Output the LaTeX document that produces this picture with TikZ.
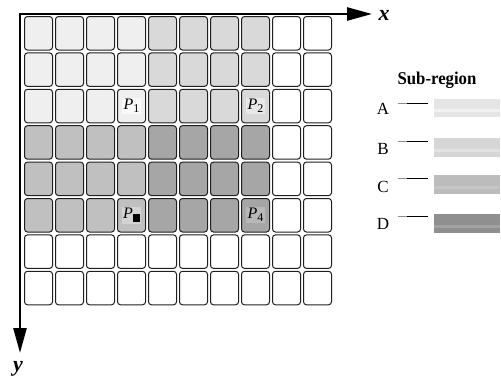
\documentclass[tikz,border=0pt]{standalone}
\usepackage{fontspec}
\setmainfont{Liberation Serif}
\usetikzlibrary{arrows.meta,calc}
\definecolor{regA}{HTML}{EFEFEF}
\definecolor{regB}{HTML}{D9D9D9}
\definecolor{regC}{HTML}{C0C0C0}
\definecolor{regD}{HTML}{A6A6A6}
\definecolor{keyA}{HTML}{E5E5E5}
\definecolor{keyB}{HTML}{D6D6D6}
\definecolor{keyC}{HTML}{BCBCBC}
\definecolor{keyD}{HTML}{8F8F8F}
\begin{document}
\begin{tikzpicture}[x=1pt,y=-1pt,
  cell/.style={draw=black!88, line width=1pt, rounded corners=3pt,
    minimum width=28pt, minimum height=33.5pt, inner sep=0pt},
  axis/.style={line width=2.6pt, line cap=rect, -{Triangle[length=25pt,width=13pt]}},
  plabel/.style={inner sep=1.5pt, font=\fontsize{16}{16}\selectfont},
  axlabel/.style={font=\bfseries\itshape\fontsize{22}{22}\selectfont, inner sep=0pt},
  keyletter/.style={font=\fontsize{17}{17}\selectfont, inner sep=0pt},
  swatch/.style={minimum width=66pt, minimum height=18.5pt, inner sep=0pt},
  keyline/.style={line width=1pt}]
\useasboundingbox (0,0) rectangle (501,388);

% grid of cells, shaded by sub-region
\foreach \r in {0,...,7}{
  \foreach \c in {0,...,9}{
    \def\cellfill{white}
    \ifnum\r<3 \ifnum\c<4 \def\cellfill{regA}\else\ifnum\c<8 \def\cellfill{regB}\fi\fi\fi
    \ifnum\r>2 \ifnum\r<6 \ifnum\c<4 \def\cellfill{regC}\else\ifnum\c<8 \def\cellfill{regD}\fi\fi\fi\fi
    \node[cell, fill=\cellfill] (c-\c-\r) at ({38.5+31*\c},{33.25+36.4*\r}) {};
  }
}

% corner points
\node[plabel, fill=white!60!regA] (p1) at (c-3-2) {\textit{P}\raisebox{-3pt}{\fontsize{12}{12}\selectfont 1}};
\node[plabel, fill=white!40!regB] (p2) at (c-7-2) {\textit{P}\raisebox{-3pt}{\fontsize{12}{12}\selectfont 2}};
\node[plabel, fill=white!30!regC] (p3) at (c-3-5) {\textit{P}\raisebox{-4pt}{\rule{7pt}{8pt}}};
\node[plabel, fill=white!20!regD] (p4) at (c-7-5) {\textit{P}\raisebox{-3pt}{\fontsize{12}{12}\selectfont 4}};

% axes
\coordinate (o) at (20,14);
\coordinate (xe) at (372,14);
\coordinate (ye) at (20,353);
\draw[axis] (o) -- (xe);
\draw[axis] (o) -- (ye);
\node[axlabel] (xl) at (384,15) {x};
\node[axlabel] (yl) at (18,369) {y};

% legend
\node[font=\bfseries\fontsize{18}{18}\selectfont, inner sep=0pt, xscale=0.93] (title) at (437,80) {Sub-region};
\foreach \k/\ly/\sy/\lny/\col/\stripe in {A/109/108/103/keyA/F2F2F2,B/149/147.5/141/keyB/E2E2E2,C/187/184.5/178/keyC/C6C6C6,D/224/223.5/216/keyD/A2A2A2}{
  \node[keyletter] (l\k) at (383,\ly) {\k};
  \node[swatch, fill=\col] (s\k) at (467,\sy) {};
  \definecolor{stripecol}{HTML}{\stripe}
  \fill[stripecol] ($(s\k.west)+(0,1)$) rectangle ($(s\k.east)+(0,4)$);
  \coordinate (a\k) at (398,\lny);
  \coordinate (b\k) at (428,\lny);
  \draw[keyline, black!45] (a\k) -- ($(a\k)+(9,0)$);
  \draw[keyline] ($(a\k)+(9,0)$) -- (b\k);
}
\end{tikzpicture}
\end{document}
